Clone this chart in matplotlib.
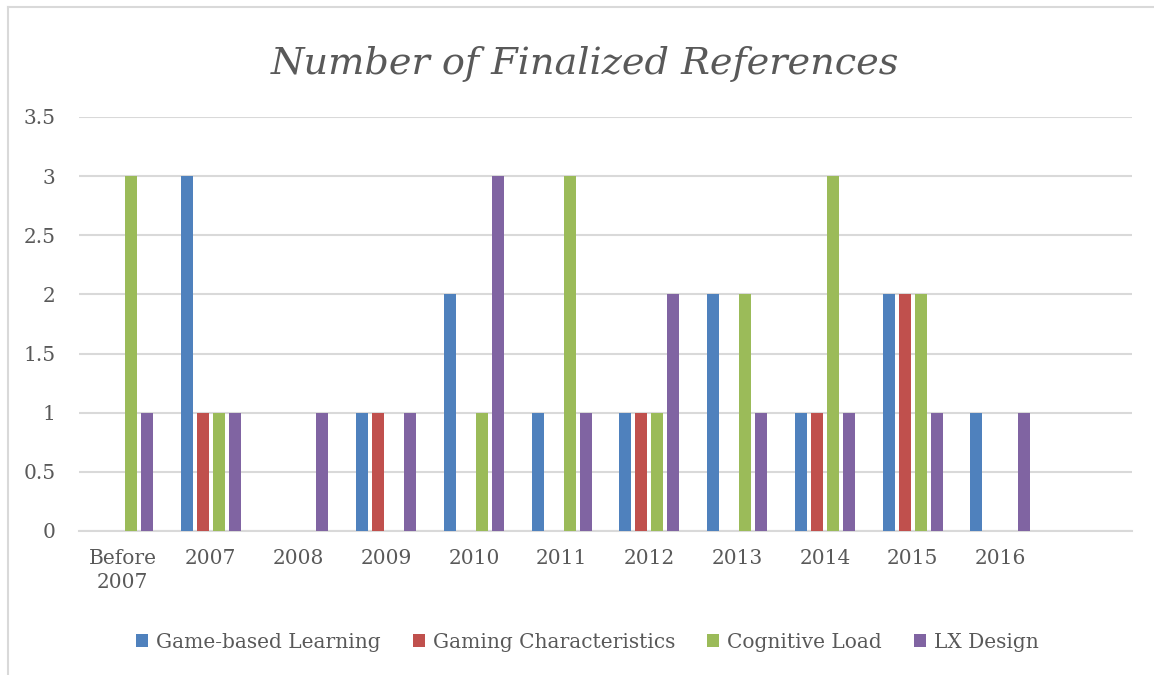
import matplotlib.pyplot as plt
from matplotlib.patches import Patch
from matplotlib.lines import Line2D
import numpy as np

categories = ['Before\n2007', '2007', '2008', '2009', '2010', '2011',
              '2012', '2013', '2014', '2015', '2016', '']
series_names = ['Game-based Learning', 'Gaming Characteristics', 'Cognitive Load', 'LX Design']
game_based = [0, 3, 0, 1, 2, 1, 1, 2, 1, 2, 1, 0]
gaming_char = [0, 1, 0, 1, 0, 0, 1, 0, 1, 2, 0, 0]
cognitive = [3, 1, 0, 0, 1, 3, 1, 2, 3, 2, 0, 0]
lx_design = [1, 1, 1, 1, 3, 1, 2, 1, 1, 1, 1, 0]

colors = ['#4F81BD', '#C0504D', '#9BBB59', '#8064A2']
text_color = '#595959'
grid_color = '#D9D9D9'

plt.rcParams['font.family'] = ['DejaVu Serif']

fig = plt.figure(figsize=(11.54, 6.75), dpi=100)
ax = fig.add_axes([79/1154, 1-531/675, (1132-79)/1154, (531-117)/675])

x = np.arange(len(categories))
width = 0.137
step = 0.182
all_series = [game_based, gaming_char, cognitive, lx_design]
for i, vals in enumerate(all_series):
    ax.bar(x + (i - 1.5) * step, vals, width=width, color=colors[i], zorder=3)

ax.set_xlim(-0.5, len(categories) - 0.5)
ax.set_ylim(0, 3.5)
ax.set_yticks([0, 0.5, 1, 1.5, 2, 2.5, 3, 3.5], ['0', '0.5', '1', '1.5', '2', '2.5', '3', '3.5'])
ax.set_xticks(x, categories)
ax.tick_params(axis='both', length=0, labelsize=14.5, colors=text_color)
ax.tick_params(axis='y', pad=17)
ax.tick_params(axis='x', pad=13)
for lbl in ax.get_xticklabels():
    lbl.set_linespacing(1.35)
ax.grid(axis='y', color=grid_color, linewidth=1.5, zorder=0)
for s in ['top', 'right', 'left']:
    ax.spines[s].set_visible(False)
ax.spines['bottom'].set_color(grid_color)
ax.spines['bottom'].set_linewidth(1.5)

fig.text(0.507, 1-74/675, 'Number of Finalized References', ha='center', va='baseline',
         fontsize=27.5, style='italic', color=text_color)

handles = [Patch(facecolor=c, edgecolor='none') for c in colors]
fig.legend(handles, series_names, loc='center', bbox_to_anchor=(0.509, 1-642/675), ncol=4,
           frameon=False, fontsize=14.5, labelcolor=text_color, handlelength=0.6,
           handleheight=0.6, handletextpad=0.4, columnspacing=1.6)

# chart border (left and top edges visible)
fig.add_artist(Line2D([8/1154, 8/1154], [0, 1-7/675], color=grid_color, linewidth=1.5))
fig.add_artist(Line2D([8/1154, 1], [1-7/675, 1-7/675], color=grid_color, linewidth=1.5))

fig.savefig('out.png', dpi=100)
